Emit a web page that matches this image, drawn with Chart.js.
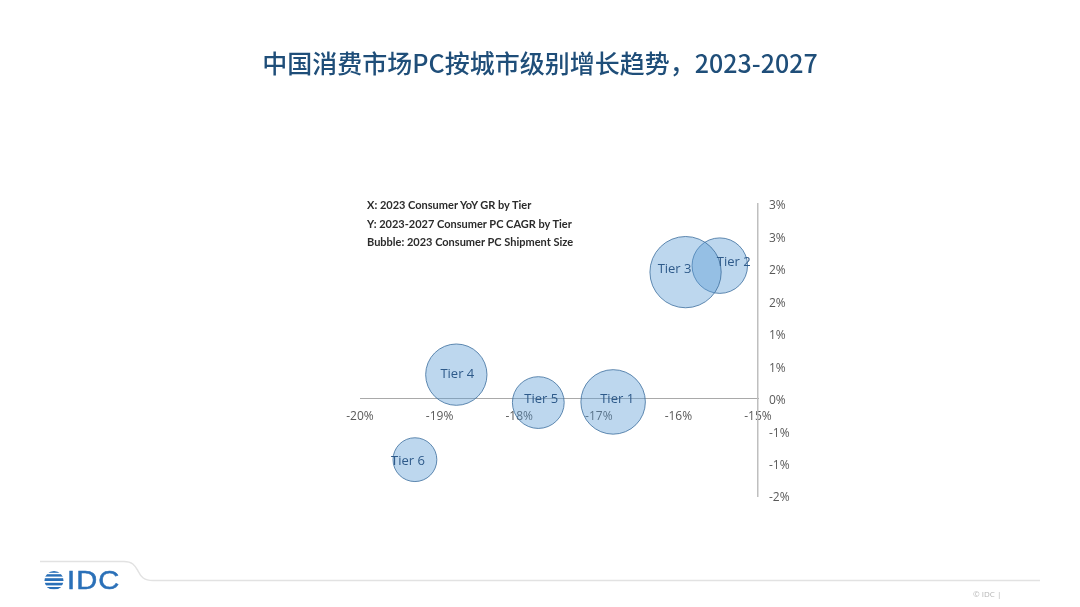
<!DOCTYPE html>
<html>
<head>
<meta charset="utf-8">
<script src="https://cdn.jsdelivr.net/npm/chart.js@4.4.0/dist/chart.umd.min.js"></script>
<style>
  html, body { margin:0; padding:0; background:#ffffff; }
  #wrap { position:relative; width:1080px; height:607px; overflow:hidden; background:#fff; }
  #c { position:absolute; left:0; top:0; }
  #title { position:absolute; left:0; width:1080px; top:45px; text-align:center;
    font-family:"Noto Sans CJK SC","Noto Sans",sans-serif; font-weight:500; font-size:25px;
    color:#1f4e79; line-height:34px; }
  #note { position:absolute; left:367px; top:196px; font-family:Lato,"Open Sans",sans-serif;
    font-weight:700; font-size:11px; color:#2b2b2b; line-height:18.7px; }
  #idc { position:absolute; left:67px; top:565px; font-family:"Liberation Sans",Arial,sans-serif;
    font-size:26px; color:#2a70b8; letter-spacing:1px; transform:scaleX(1.12); transform-origin:left top;
    -webkit-text-stroke:0.5px #2a70b8; }
  #copy { position:absolute; left:973px; top:588px; font-family:"Open Sans",sans-serif; font-size:8px; color:#b5b5b5; }
  svg { position:absolute; left:0; top:0; }
</style>
</head>
<body>
<div id="wrap">
  <svg width="1080" height="607">
    <path d="M40 561.5 H124 C133 561.5 135 566 138 571 C141 577 144 580.5 153 580.5 H1040" fill="none" stroke="#e2e2e2" stroke-width="1.5"/>
    <defs><clipPath id="gc"><circle cx="54" cy="580.5" r="9.5"/></clipPath></defs>
    <g clip-path="url(#gc)" fill="#2a70b8">
      <rect x="44" y="571" width="20" height="1.8"/>
      <rect x="44" y="574.2" width="20" height="2.4"/>
      <rect x="44" y="578.2" width="20" height="2.8"/>
      <rect x="44" y="582.8" width="20" height="2.6"/>
      <rect x="44" y="587" width="20" height="2.2"/>
    </g>
  </svg>
  <canvas id="c" width="1080" height="607"></canvas>
  <div id="title">中国消费市场PC按城市级别增长趋势，2023-2027</div>
  <div id="note">X: 2023 Consumer YoY GR by Tier<br>Y: 2023-2027 Consumer PC CAGR by Tier<br>Bubble: 2023 Consumer PC Shipment Size</div>
  <div id="idc">IDC</div>
  <div id="copy">© IDC |</div>
</div>
<script>
// ---- data ----
const tiers = ['Tier 1', 'Tier 2', 'Tier 3', 'Tier 4', 'Tier 5', 'Tier 6'];
const yoyGrowth = [-16.82, -15.48, -15.91, -18.79, -17.76, -19.31];   // X: 2023 YoY GR (%)
const cagr = [-0.05, 2.05, 1.95, 0.37, -0.06, -0.94];                 // Y: 2023-2027 CAGR (%)
const shipmentSize = [10.4, 7.7, 12.7, 9.4, 6.7, 4.8];               // Bubble: relative shipment size
const xTickLabels = ['-20%', '-19%', '-18%', '-17%', '-16%', '-15%'];
const yTickLabels = ['3%', '3%', '2%', '2%', '1%', '1%', '0%', '-1%', '-1%', '-2%']; // top to bottom

// label nudges (px) so labels sit as in the source
const labelNudge = [[4,-3],[14,-3],[-11,-3],[1,0],[3,-3],[-7,2]];

const bubbleLabels = {
  id: 'bubbleLabels',
  afterDatasetsDraw(chart) {
    const ctx = chart.ctx;
    const meta = chart.getDatasetMeta(0);
    ctx.save();
    ctx.font = '13px "Open Sans", sans-serif';
    ctx.fillStyle = '#2e5a8a';
    ctx.textAlign = 'center';
    ctx.textBaseline = 'middle';
    meta.data.forEach((el, i) => {
      ctx.fillText(tiers[i], el.x + labelNudge[i][0], el.y + labelNudge[i][1]);
    });
    ctx.restore();
  }
};

new Chart(document.getElementById('c'), {
  type: 'bubble',
  data: {
    datasets: [{
      label: 'Tiers',
      data: tiers.map((t, i) => ({ x: yoyGrowth[i], y: cagr[i], r: 10 * Math.sqrt(shipmentSize[i]) })),
      backgroundColor: 'rgba(91,155,213,0.4)',
      borderColor: 'rgba(60,110,158,0.8)',
      borderWidth: 1,
      clip: false
    }]
  },
  options: {
    responsive: false,
    animation: false,
    events: [],
    layout: { padding: { left: 360, right: 262, top: 204, bottom: 111 } },
    plugins: { legend: { display: false }, tooltip: { enabled: false }, title: { display: false } },
    scales: {
      x: {
        type: 'linear',
        min: -20, max: -15,
        position: { y: 0 },
        grid: { display: false, drawTicks: true, tickLength: 8 },
        border: { display: true, color: '#a9a9a9', width: 1 },
        ticks: {
          stepSize: 1, padding: 3, color: '#595959',
          font: { family: '"Open Sans", sans-serif', size: 12 },
          callback: (v, i) => xTickLabels[i]
        }
      },
      y: {
        type: 'linear',
        min: -1.5, max: 3,
        position: 'right',
        afterFit: (s) => { s.width = 60; },
        grid: { display: false, drawTicks: true, tickLength: 8 },
        border: { display: true, color: '#bfbfbf', width: 1.5 },
        ticks: {
          stepSize: 0.5, padding: 3, color: '#595959', labelOffset: 2,
          font: { family: '"Open Sans", sans-serif', size: 12 },
          callback: (v, i, ticks) => yTickLabels[ticks.length - 1 - i]
        }
      }
    }
  },
  plugins: [bubbleLabels]
});
</script>
</body>
</html>
